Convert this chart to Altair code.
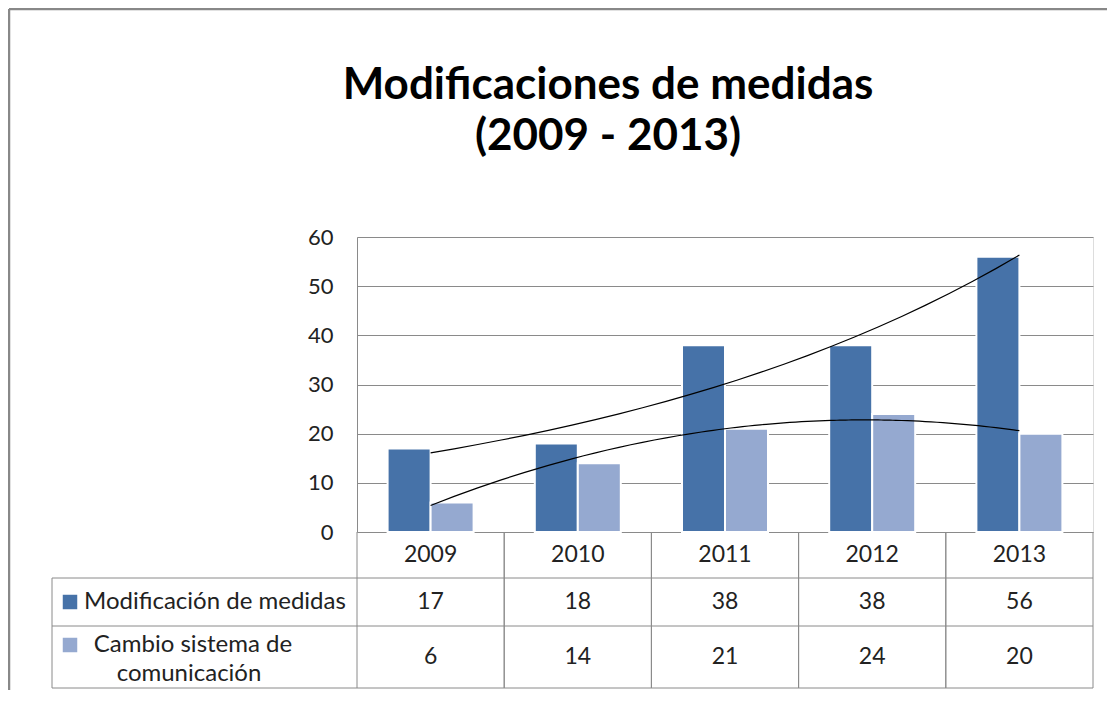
import altair as alt
import pandas as pd

# ---------------- data ----------------
years = ["2009", "2010", "2011", "2012", "2013"]
year_index = [1, 2, 3, 4, 5]
modificacion = [17, 18, 38, 38, 56]
cambio = [6, 14, 21, 24, 20]
series_names = ["Modificación de medidas", "Cambio sistema de comunicación"]
series2_label_lines = ["Cambio sistema de", "comunicación"]
y_ticks = [0, 10, 20, 30, 40, 50, 60]
title_lines = ["Modificaciones de medidas", "(2009 - 2013)"]

# ---------------- styles / layout ----------------
C_DARK = "#4672A8"
C_LIGHT = "#95A9D0"
GRID = "#8A8A8A"
TXT = "#222222"
FONT = "Lato"
W, H = 736, 295
PAD_L, PAD_T, PAD_R, PAD_B = 349, 229, 14, 158
ROW_TOP, ROW1, ROW2, ROW_BOT = 295, 341, 389, 451
LEFT_COL = -305
TITLE_X = 251
TITLE_Y = [-138, -87]

rows = []
for i, yr in enumerate(years):
    rows.append({"year": yr, "idx": year_index[i], "series": series_names[0], "value": modificacion[i]})
    rows.append({"year": yr, "idx": year_index[i], "series": series_names[1], "value": cambio[i]})
df = pd.DataFrame(rows)
tbl = pd.DataFrame({"year": years, "m": modificacion, "c": cambio})
one = pd.DataFrame({"k": [0]})


def xband(**kw):
    return alt.X("year:N", sort=years,
                 scale=alt.Scale(domain=years, paddingInner=0, paddingOuter=0),
                 axis=None, **kw)


yscale = alt.Scale(domain=[0, 60], nice=False, zero=True)
yaxis = alt.Axis(values=y_ticks, grid=True, gridColor=GRID, gridWidth=1,
                 domainColor=GRID, domainWidth=1, ticks=False, labelPadding=24,
                 labelFont=FONT, labelFontSize=22, labelColor=TXT, title=None)
yenc = alt.Y("value:Q", scale=yscale, axis=yaxis)

bars = alt.Chart(df).mark_bar(stroke="white", strokeWidth=2).encode(
    x=xband(),
    xOffset=alt.XOffset("series:N", sort=series_names,
                        scale=alt.Scale(domain=series_names, paddingInner=0, paddingOuter=0.7116)),
    y=yenc,
    color=alt.Color("series:N", scale=alt.Scale(domain=series_names, range=[C_DARK, C_LIGHT]),
                    legend=None),
)

xq = alt.X("idx:Q", scale=alt.Scale(domain=[0.5, 5.5], nice=False, zero=False), axis=None)

# Excel-style exponential trendline (least squares on log values)
trend1 = (
    alt.Chart(df)
    .transform_filter(alt.datum.series == series_names[0])
    .transform_calculate(lv="log(datum.value)")
    .transform_regression("idx", "lv", method="poly", order=1, extent=[1, 5])
    .transform_calculate(value="exp(datum.lv)")
    .mark_line(color="black", strokeWidth=1.2)
    .encode(x=xq, y=yenc)
)

# polynomial (order 2) trendline
trend2 = (
    alt.Chart(df)
    .transform_filter(alt.datum.series == series_names[1])
    .transform_regression("idx", "value", method="poly", order=2, extent=[1, 5])
    .mark_line(color="black", strokeWidth=1.2)
    .encode(x=xq, y=yenc)
)

# ---------------- data table ----------------
txt = dict(font=FONT, fontSize=23, color=TXT, baseline="middle")
lab = dict(font=FONT, fontSize=24, color=TXT, baseline="middle")
header = alt.Chart(tbl).mark_text(**txt).encode(x=xband(), y=alt.value((ROW_TOP + ROW1) / 2), text="year:N")
row1 = alt.Chart(tbl).mark_text(**txt).encode(x=xband(), y=alt.value((ROW1 + ROW2) / 2), text="m:Q")
row2 = alt.Chart(tbl).mark_text(**txt).encode(x=xband(), y=alt.value((ROW2 + ROW_BOT) / 2), text="c:Q")

vl = alt.Chart(tbl).mark_rule(color=GRID, strokeWidth=1).encode(
    x=xband(bandPosition=0), y=alt.value(ROW_TOP), y2=alt.value(ROW_BOT))
vr = alt.Chart(tbl).mark_rule(color=GRID, strokeWidth=1).encode(
    x=xband(bandPosition=1), y=alt.value(ROW_TOP), y2=alt.value(ROW_BOT))
vleft = alt.Chart(one).mark_rule(color=GRID, strokeWidth=1).encode(
    x=alt.value(LEFT_COL), y=alt.value(ROW1), y2=alt.value(ROW_BOT))
hlines = [
    alt.Chart(one).mark_rule(color=GRID, strokeWidth=1).encode(
        x=alt.value(LEFT_COL), x2=alt.value(W), y=alt.value(yy))
    for yy in (ROW1, ROW2, ROW_BOT)
]

leg1 = alt.Chart(one).mark_square(filled=True, size=210, color=C_DARK, opacity=1).encode(
    x=alt.value(-287), y=alt.value((ROW1 + ROW2) / 2))
leg2 = alt.Chart(one).mark_square(filled=True, size=210, color=C_LIGHT, opacity=1).encode(
    x=alt.value(-287), y=alt.value(ROW2 + 19))
lab1 = alt.Chart(one).mark_text(align="left", **lab).encode(
    x=alt.value(-273), y=alt.value((ROW1 + ROW2) / 2), text=alt.value(series_names[0]))
lab2a = alt.Chart(one).mark_text(align="center", **lab).encode(
    x=alt.value(-164), y=alt.value(ROW2 + 19), text=alt.value(series2_label_lines[0]))
lab2b = alt.Chart(one).mark_text(align="center", **lab).encode(
    x=alt.value(-168), y=alt.value(ROW2 + 48), text=alt.value(series2_label_lines[1]))

# ---------------- title (two centred lines) ----------------
titles = [
    alt.Chart(one).mark_text(font=FONT, fontSize=44, fontWeight="bold", color="black",
                             align="center", baseline="alphabetic").encode(
        x=alt.value(TITLE_X), y=alt.value(ty), text=alt.value(tl))
    for tl, ty in zip(title_lines, TITLE_Y)
]

# outer frame (top and left edges of the chart area)
frame_top = alt.Chart(one).mark_rule(color="#888888", strokeWidth=2.5).encode(
    x=alt.value(-348), x2=alt.value(W + PAD_R), y=alt.value(-228))
frame_left = alt.Chart(one).mark_rule(color="#888888", strokeWidth=2.5).encode(
    x=alt.value(-348), y=alt.value(-228), y2=alt.value(H + PAD_B))

chart = alt.layer(
    frame_top, frame_left,
    vl, vr, vleft, *hlines,
    bars, trend1, trend2,
    header, row1, row2,
    leg1, leg2, lab1, lab2a, lab2b,
    *titles,
).resolve_scale(x="independent").properties(
    width=W, height=H,
    padding={"left": PAD_L, "top": PAD_T, "right": PAD_R, "bottom": PAD_B},
    autosize=alt.AutoSizeParams(type="none"),
).configure_view(stroke=None).configure(background="white")

chart.save("out.html", embed_options={"renderer": "svg", "actions": False})
